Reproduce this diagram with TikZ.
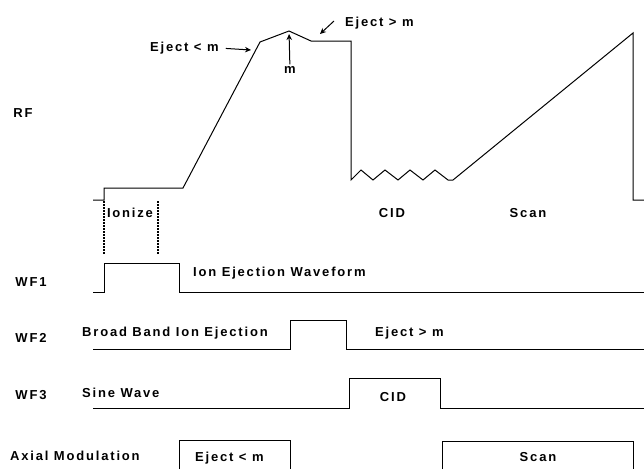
\documentclass[tikz,border=0pt]{standalone}
\usepackage{fontspec}
\setmainfont{Liberation Sans}
\newfontfamily\figfont[LetterSpace=14]{Liberation Sans}
\usetikzlibrary{arrows.meta}
\pgfdeclarelayer{bg}
\pgfsetlayers{bg,main}

\begin{document}
\begin{tikzpicture}[x=1pt,y=-1pt,
        every node/.style={inner sep=0pt, font=\figfont\bfseries\fontsize{13}{15}\selectfont},
        trace/.style={line width=1pt},
        marker/.style={line width=1pt, -{Stealth[length=6pt,width=5.5pt]}},
        bracket/.style={line width=1.1pt, dash pattern=on 2pt off 1pt}]
        \useasboundingbox (0,0) rectangle (644,469);
        % row names
        \node (rf) at (23,113) {RF};
        \node (wf1) at (31,282) {WF1};
        \node (wf2) at (31,338) {WF2};
        \node (wf3) at (31,395) {WF3};
        \node (axial) [anchor=west] at (10,456) {Axial Modulation};
        % texts on the traces
        \node (ejlo) [anchor=west] at (150,48) {Eject < m};
        \node (m) at (290,70) {m};
        \node (ejhi) [anchor=west] at (345,23) {Eject > m};
        \node (ionize) at (130,213) {Ionize};
        \node (cid) at (392,213) {CID};
        \node (scan) at (528,213) {Scan};
        \node (wf1txt) [anchor=west] at (193,273) {Ion Ejection Waveform};
        \node (wf2txt) [anchor=west] at (82,333) {Broad Band Ion Ejection};
        \node (wf2ej) [anchor=west] at (375,333) {Eject > m};
        \node (wf3txt) [anchor=west] at (82,393) {Sine Wave};
        \node (wf3cid) at (393,397) {CID};
        \node (axej) [anchor=west] at (195,458) {Eject < m};
        \node (axscan) at (538,457) {Scan};
        \coordinate (lotip) at (251,50);
        \coordinate (peak) at (289,31);
        \coordinate (hitail) at (334,21);
        \coordinate (hitip) at (320,34);
        \begin{pgfonlayer}{bg}
                \draw[trace] (93,200) -- (104,200) -- (104,188) -- (183,188) -- (260,42) -- (peak)
                        -- (311,41) -- (351,41) -- (351,180) -- (361,170) -- (373,180) -- (385,170)
                        -- (398,180) -- (410,170) -- (423,180) -- (435,170) -- (448,180) -- (453,180)
                        -- (633,33) -- (633,200) -- (644,200);
                \draw[trace] (93,292) -- (104,292) -- (104,263) -- (179,263) -- (179,292) -- (644,292);
                \draw[trace] (93,349) -- (290,349) -- (290,320) -- (346,320) -- (346,349) -- (644,349);
                \draw[trace] (93,408) -- (349,408) -- (349,378) -- (440,378) -- (440,408) -- (644,408);
                \draw[trace] (179,469) -- (179,440) -- (290,440) -- (290,469);
                \draw[trace] (442,469) -- (442,441) -- (633,441) -- (633,469);
                \draw[bracket] (104,201) -- (104,254);
                \draw[bracket] (158,201) -- (158,254);
                \draw[marker, shorten <=7pt] (ejlo.east) -- (lotip);
                \draw[marker, shorten <=2pt, shorten >=3pt] (m) -- (peak);
                \draw[marker] (hitail) -- (hitip);
        \end{pgfonlayer}
\end{tikzpicture}
\end{document}
